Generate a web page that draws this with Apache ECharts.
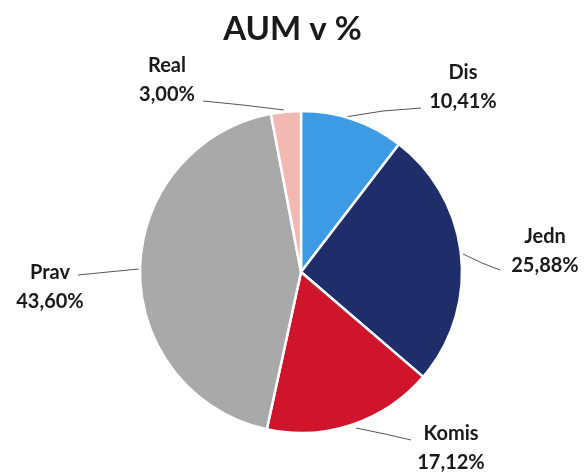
<!DOCTYPE html>
<html>
<head>
<meta charset="utf-8">
<script src="https://cdn.jsdelivr.net/npm/echarts@6/dist/echarts.min.js"></script>
<style>
  html, body { margin: 0; padding: 0; background: #fff; }
  #chart { width: 585px; height: 472px; }
</style>
</head>
<body>
<div id="chart"></div>
<script>
var chartDom = document.getElementById('chart');
var myChart = echarts.init(chartDom);
var option;

// data (clockwise from 12 o'clock)
var names = ['Dis', 'Jedn', 'Komis', 'Prav', 'Real'];
var values = [10.41, 25.88, 17.12, 43.60, 3.00];
var colors = ['#3d9be6', '#1f2e6b', '#d0142c', '#a9a9a9', '#f2b9b3'];

// where each label sits (centre of the two-line block) and its leader line
var labelPos = [[463, 87], [545, 251], [451, 448], [50, 287], [167, 80]];
var linePts = [
  [[345, 117], [383, 111], [421, 108]],
  [[463, 254], [482, 263], [500, 270]],
  [[356, 428], [385, 434], [411, 440]],
  [[139, 269], [108, 272], [78, 275]],
  [[284, 110], [243, 105], [203, 101]]
];

var pieData = [];
for (var i = 0; i < names.length; i++) {
  pieData.push({ name: names[i], value: values[i], itemStyle: { color: colors[i] } });
}

option = {
  title: {
    text: 'AUM v %',
    left: 'center',
    top: 8,
    textStyle: { fontFamily: 'Lato', fontSize: 33, fontWeight: 'bold', color: '#1a1a1a' }
  },
  series: [
    {
      type: 'pie',
      center: [301, 272],
      radius: 161,
      startAngle: 90,
      clockwise: true,
      data: pieData,
      itemStyle: { borderColor: '#fff', borderWidth: 2.5 },
      label: {
        show: true,
        formatter: function (p) {
          return p.name + '\n' + p.value.toFixed(2).replace('.', ',') + '%';
        },
        fontFamily: 'Lato',
        fontSize: 20,
        fontWeight: 'bold',
        color: '#1a1a1a',
        lineHeight: 29,
        align: 'center',
        overflow: 'none'
      },
      labelLine: {
        show: true,
        lineStyle: { color: '#555', width: 1 }
      },
      labelLayout: function (params) {
        var i = params.dataIndex;
        return {
          x: labelPos[i][0],
          y: labelPos[i][1],
          align: 'center',
          verticalAlign: 'middle',
          labelLinePoints: linePts[i]
        };
      },
      emphasis: { disabled: true },
      animation: false
    }
  ]
};

option && myChart.setOption(option);
</script>
</body>
</html>
